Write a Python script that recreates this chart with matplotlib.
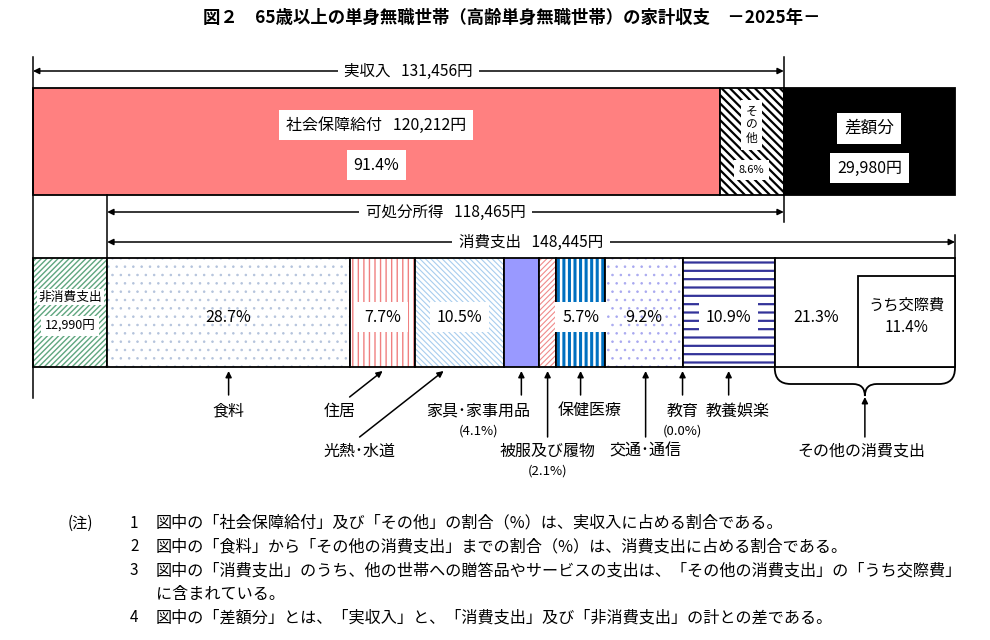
import matplotlib.pyplot as plt
from matplotlib.patches import Rectangle, PathPatch
from matplotlib.path import Path

plt.rcParams['font.family'] = ['Noto Sans CJK JP', 'DejaVu Sans']

# 収入・支出（円）
income_total = 131456
social_security = 120212
other_income = income_total - social_security
surplus = 29980
non_consumption = 12990
disposable = 118465
consumption = 148445

social_share = 91.4
other_share = 8.6
kousai_share = 11.4

# 消費支出の内訳（%）
items = ['食料', '住居', '光熱･水道', '家具･家事用品', '被服及び履物', '保健医療',
         '交通･通信', '教育', '教養娯楽', 'その他の消費支出']
shares = [28.7, 7.7, 10.5, 4.1, 2.1, 5.7, 9.2, 0.0, 10.9, 21.3]
sub_labels = {'家具･家事用品': '(4.1%)', '被服及び履物': '(2.1%)', '教育': '(0.0%)'}

notes = [
    ('1', '図中の「社会保障給付」及び「その他」の割合（%）は、実収入に占める割合である。'),
    ('2', '図中の「食料」から「その他の消費支出」までの割合（%）は、消費支出に占める割合である。'),
    ('3', '図中の「消費支出」のうち、他の世帯への贈答品やサービスの支出は、「その他の消費支出」の「うち交際費」'),
    ('', 'に含まれている。'),
    ('4', '図中の「差額分」とは、「実収入」と、「消費支出」及び「非消費支出」の計との差である。'),
]

# 塗り・ハッチ (face, hatch, hatch color, hatch lw)
styles = {
    '食料': ('white', '..', '#b4c3dc', 0.6),
    '住居': ('white', '|||', '#f08080', 1.0),
    '光熱･水道': ('white', '\\' * 6, '#a8cdee', 0.8),
    '家具･家事用品': ('#9999ff', None, None, 0),
    '被服及び履物': ('white', '/' * 6, '#f08a8a', 0.8),
    '保健医療': ('white', '|||', '#0070c0', 2.2),
    '交通･通信': ('white', '..', '#a8a8f0', 0.6),
    '教育': ('white', None, None, 0),
    '教養娯楽': ('white', '--', '#333399', 1.6),
    'その他の消費支出': ('white', None, None, 0),
}

fig = plt.figure(figsize=(9.9, 6.4), dpi=100)
ax = fig.add_axes([0, 0, 1, 1])
k = (income_total + surplus) / 922.0      # 円 / px
ax.set_xlim(-33 * k, (990 - 33) * k)
ax.set_ylim(640, 0)
ax.axis('off')


def px(d):
    return d * k


def block(x0, w, y0, h, face='white', hatch=None, hcolor=None, hlw=0.8):
    if hatch:
        p = Rectangle((x0, y0), w, h, facecolor=face, edgecolor=hcolor, hatch=hatch, lw=0)
        if hasattr(p, 'set_hatch_linewidth'):
            p.set_hatch_linewidth(hlw)
        ax.add_patch(p)
    else:
        ax.add_patch(Rectangle((x0, y0), w, h, facecolor=face, lw=0))
    ax.add_patch(Rectangle((x0, y0), w, h, fill=False, edgecolor='black', lw=1.3))


def label(x, y, s, size=11.5, box=True, pad=0.42, **kw):
    bb = dict(boxstyle=f'square,pad={pad}', facecolor='white', edgecolor='none') if box else None
    ax.text(x, y, s, ha='center', va='center', fontsize=size, bbox=bb, **kw)


def arrow(tip, tail, style='-|>'):
    ax.annotate('', xy=tip, xytext=tail,
                arrowprops=dict(arrowstyle=style, color='black', lw=1.1,
                                mutation_scale=9, shrinkA=0, shrinkB=0))


ax.text(px(479), 18, '図２　65歳以上の単身無職世帯（高齢単身無職世帯）の家計収支　－2025年－',
        ha='center', va='center', fontsize=12.5, fontweight='bold')

# 上段：収入
top_y, top_h = 88, 107
block(0, social_security, top_y, top_h, face='#ff8080')
block(social_security, other_income, top_y, top_h, 'white', '\\' * 4, 'black', 1.6)
block(income_total, surplus, top_y, top_h, face='black')

label(social_security / 2, 125, '社会保障給付   120,212円', 11.5)
label(social_security / 2, 165, f'{social_share}%', 11.5)
xo = social_security + other_income / 2
ax.text(xo, 125, 'そ\nの\n他', ha='center', va='center', fontsize=8.5, linespacing=1.05,
        bbox=dict(boxstyle='square,pad=0.4', facecolor='white', edgecolor='none'))
label(xo, 170, f'{other_share}%', 8)
xs = income_total + surplus / 2
label(xs, 128, '差額分', 12)
label(xs, 168, f'{surplus:,}円', 11.5)

# 寸法線
ax.plot([0, 0], [57, 398], color='black', lw=1.1)
ax.plot([income_total, income_total], [57, 222], color='black', lw=1.1)
ax.plot([non_consumption, non_consumption], [195, 258], color='black', lw=1.1)
ax.plot([non_consumption + consumption] * 2, [235, 258], color='black', lw=1.1)

arrow((0, 71), (income_total, 71), '<|-|>')
label(income_total / 2, 71, f'実収入   {income_total:,}円', 11.2)
arrow((non_consumption, 212), (income_total, 212), '<|-|>')
label((non_consumption + income_total) / 2, 212, f'可処分所得   {disposable:,}円', 11.2)
arrow((non_consumption, 242), (non_consumption + consumption, 242), '<|-|>')
label(non_consumption + consumption / 2, 242, f'消費支出   {consumption:,}円', 11.2)

# 下段：支出
bot_y, bot_h = 258, 109
block(0, non_consumption, bot_y, bot_h, 'white', '/' * 6, '#5fa67f', 1.0)
label(non_consumption / 2, 297, '非消費支出', 9.2, pad=0.12)
label(non_consumption / 2, 326, f'{non_consumption:,}円', 9, pad=0.3)

total_share = sum(shares)
widths = [s / total_share * consumption for s in shares]
lefts = []
x = non_consumption
for w in widths:
    lefts.append(x)
    x += w
centers = [l + w / 2 for l, w in zip(lefts, widths)]

for name, l, w in zip(items, lefts, widths):
    face, hatch, hc, hlw = styles[name]
    block(l, w, bot_y, bot_h, face, hatch, hc, hlw)

end = non_consumption + consumption
kousai_w = kousai_share / 100 * consumption
ax.add_patch(Rectangle((end - kousai_w, 276), kousai_w, bot_y + bot_h - 276,
                       facecolor='white', edgecolor='black', lw=1.3))
ax.text(end - kousai_w / 2, 305, 'うち交際費', ha='center', va='center', fontsize=11)
ax.text(end - kousai_w / 2, 328, f'{kousai_share}%', ha='center', va='center', fontsize=11)

boxed = {'住居', '光熱･水道', '保健医療', '教養娯楽'}
for name, c, s in zip(items, centers, shares):
    if name in ('家具･家事用品', '被服及び履物', '教育'):
        continue
    xt = c
    if name == 'その他の消費支出':
        xt = lefts[-1] + px(41)
    label(xt, 317, f'{s}%', 11.5, box=name in boxed)

# 下の矢印と項目名 (tip dx, tail dx, tail y, label dx, label y)
pointers = {
    '食料': (0, 0, 395, 0, 411),
    '住居': (0, -33, 397, -43, 411),
    '光熱･水道': (-16, -100, 437, -100, 451),
    '家具･家事用品': (0, 0, 395, -43, 411),
    '被服及び履物': (0, 0, 437, 0, 451),
    '保健医療': (0, 0, 395, 9, 411),
    '交通･通信': (2, 2, 437, 2, 451),
    '教育': (0, 0, 395, 0, 411),
    '教養娯楽': (0, 0, 395, 9, 411),
}
for name, c in zip(items, centers):
    if name not in pointers:
        continue
    tdx, tldx, tly, ldx, ly = pointers[name]
    arrow((c + px(tdx), 371), (c + px(tldx), tly))
    ax.text(c + px(ldx), ly, name, ha='center', va='center', fontsize=11.5)
    if name in sub_labels:
        ax.text(c + px(ldx), ly + 20, sub_labels[name], ha='center', va='center', fontsize=9.5)

# その他の消費支出の括弧
x0, x1 = lefts[-1], end
xm = (x0 + x1) / 2
y_top, y_mid, y_tip = 368, 384, 396
verts = [(x0, y_top), (x0, y_mid), (x0 + px(16), y_mid),
         (xm - px(12), y_mid), (xm, y_mid), (xm, y_tip),
         (xm, y_mid), (xm + px(12), y_mid),
         (x1 - px(16), y_mid), (x1, y_mid), (x1, y_top)]
codes = [Path.MOVETO, Path.CURVE3, Path.CURVE3,
         Path.LINETO, Path.CURVE3, Path.CURVE3,
         Path.CURVE3, Path.CURVE3,
         Path.LINETO, Path.CURVE3, Path.CURVE3]
ax.add_patch(PathPatch(Path(verts, codes), fill=False, edgecolor='black', lw=1.3))
arrow((xm, y_tip + 1), (xm, 437))
ax.text(xm - px(4), 451, items[-1], ha='center', va='center', fontsize=11.5)

# 注
ax.text(px(35), 523, '(注)', ha='left', va='center', fontsize=11)
for i, (num, text) in enumerate(notes):
    y = 523 + i * 23.7
    if num:
        ax.text(px(97), y, num, ha='left', va='center', fontsize=11)
    ax.text(px(123), y, text, ha='left', va='center', fontsize=11.6)

fig.savefig('out.png', dpi=100)
